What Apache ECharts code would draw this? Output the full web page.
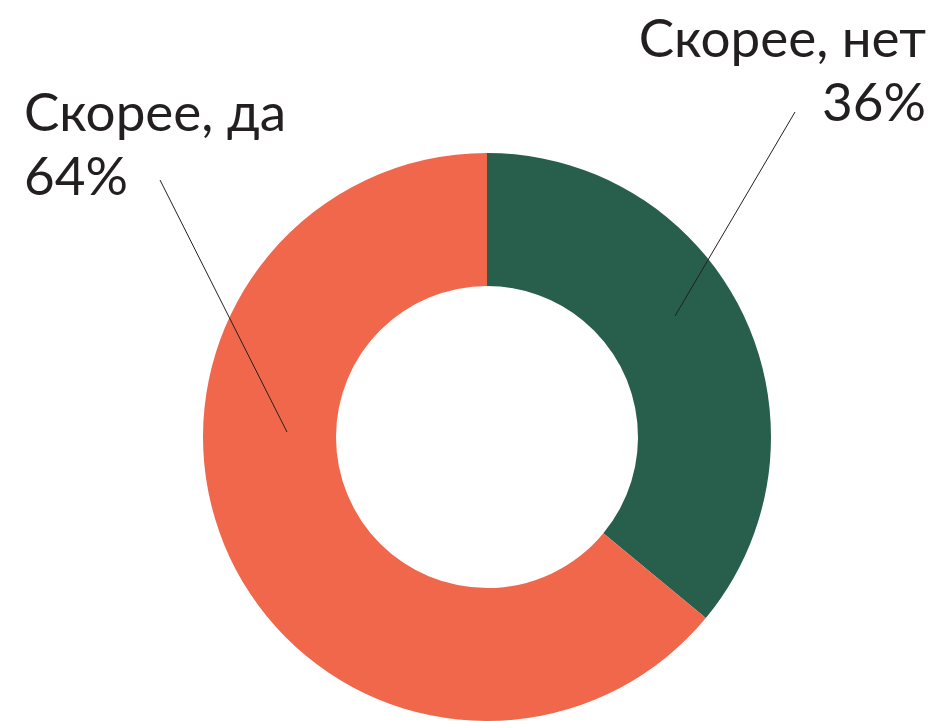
<!DOCTYPE html>
<html>
<head>
<meta charset="utf-8">
<script src="https://cdn.jsdelivr.net/npm/echarts@6/dist/echarts.min.js"></script>
<style>
  html, body { margin: 0; padding: 0; background: #fff; }
  #chart { width: 950px; height: 721px; }
</style>
</head>
<body>
<div id="chart"></div>
<script>
// данные
const categories = ['Скорее, нет', 'Скорее, да'];
const values = [36, 64];
const colors = ['#285e4c', '#f0674b'];

// раскладка подписей и выносок
const labelPos = [
  { x: 926, y: 8, align: 'right' },
  { x: 24, y: 82, align: 'left' }
];
const lineFrom = [[795, 112], [160, 180]];
const lineTo = [[675, 316], [287, 432]];

const chart = echarts.init(document.getElementById('chart'));

chart.setOption({
  animation: false,
  // выноски поверх секторов
  graphic: lineFrom.map((p, i) => ({
    type: 'polyline',
    z: 100,
    silent: true,
    shape: { points: [p, lineTo[i]] },
    style: { stroke: '#231f20', lineWidth: 1, fill: null }
  })),
  series: [{
    type: 'pie',
    center: [487, 437],
    radius: [151, 284],
    startAngle: 90,
    clockwise: true,
    avoidLabelOverlap: false,
    data: categories.map((name, i) => ({
      name: name,
      value: values[i],
      itemStyle: { color: colors[i] }
    })),
    label: {
      show: true,
      position: 'outside',
      formatter: '{b}\n{c}%',
      fontFamily: 'Lato',
      fontSize: 53,
      lineHeight: 64,
      color: '#231f20'
    },
    labelLine: { show: false },
    labelLayout: function (p) {
      const i = p.dataIndex;
      return {
        x: labelPos[i].x,
        y: labelPos[i].y,
        align: labelPos[i].align,
        verticalAlign: 'top'
      };
    },
    emphasis: { disabled: true }
  }]
});
</script>
</body>
</html>
